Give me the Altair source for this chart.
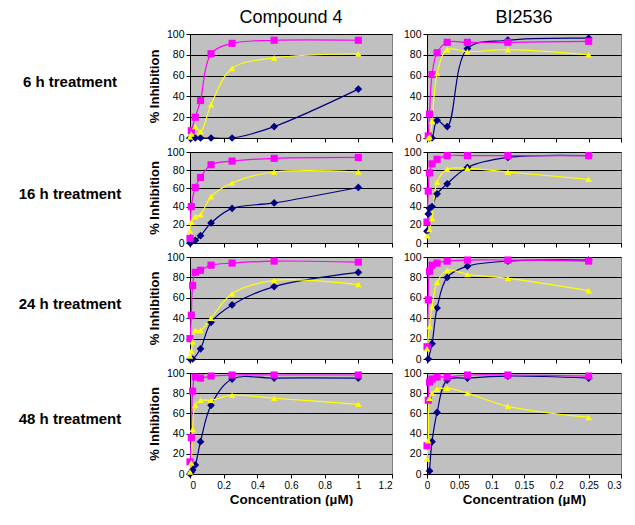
import altair as alt
import pandas as pd

FONT = "Liberation Sans"
N = None

TREATMENTS = ["6 h treatment", "16 h treatment", "24 h treatment", "48 h treatment"]
COMPOUNDS = ["Compound 4", "BI2536"]
SERIES = ["Series1", "Series2", "Series3"]
SERIES_COLORS = ["#000080", "#FF00FF", "#FFFF00"]
SERIES_SHAPES = ["diamond", "square", "triangle-up"]

# concentrations (µM)
C4_X = [0, 0.0078, 0.0156, 0.03125, 0.0625, 0.125, 0.25, 0.5, 1]
BI_X = [0, 0.00195, 0.0039, 0.0078, 0.0156, 0.03125, 0.0625, 0.125, 0.25]

# % inhibition, Compound 4
C4_6H_S1 = [0, 0, N, 0, 0, 0, 0, 11, 47]
C4_6H_S2 = [N, 7, N, 20, 36, 81, 91, 94, 94]
C4_6H_S3 = [1, 4, N, 11, 6, 32, 67, 77, 81]
C4_16H_S1 = [0, 1, N, 3, 8, 22, 38, 44, 61]
C4_16H_S2 = [5, 40, N, 61, 72, 86, 90, 93, 94]
C4_16H_S3 = [13, 23, N, 29, 31, 51, 66, 78, 78]
C4_24H_S1 = [0, N, 0, N, 10, 36, 53, 71, 85]
C4_24H_S2 = [20, 43, 72, 85, 87, 92, 94, 96, 95]
C4_24H_S3 = [3, 8, 17, 28, 28, 40, 64, 77, 73]
C4_48H_S1 = [0, 2, 4, 9, 32, 68, 94, 95, 95]
C4_48H_S2 = [12, 36, 82, 96, 95, 97, 98, 98, 98]
C4_48H_S3 = [2, 11, 44, 68, 73, 73, 78, 75, 69]

# % inhibition, BI2536
BI_6H_S1 = [N, N, 0, 0, 17, 11, 86, 94, 96]
BI_6H_S2 = [N, 2, 23, 61, 82, 92, 92, 92, 93]
BI_6H_S3 = [N, 0, 1, 16, 62, 85, 83, 85, 80]
BI_16H_S1 = [13, 32, 38, 40, 54, 65, 83, 94, 96]
BI_16H_S2 = [23, 57, 77, 87, 92, 96, 96, 96, 96]
BI_16H_S3 = [8, N, 15, 27, 67, 81, 82, 78, 70]
BI_24H_S1 = [N, 0, N, 15, 50, 80, 91, 96, 97]
BI_24H_S2 = [12, 58, 86, 92, 94, 96, 97, 97, 96]
BI_24H_S3 = [10, N, 32, 51, 75, 87, 83, 79, 67]
BI_48H_S1 = [N, N, 3, 32, 61, 93, 95, 97, 95]
BI_48H_S2 = [28, 73, 91, 94, 96, 96, 98, 98, 97]
BI_48H_S3 = [15, 33, 75, 80, 84, 85, 80, 67, 56]

TABLE = {
    ("Compound 4", "6 h treatment"): [C4_6H_S1, C4_6H_S2, C4_6H_S3],
    ("Compound 4", "16 h treatment"): [C4_16H_S1, C4_16H_S2, C4_16H_S3],
    ("Compound 4", "24 h treatment"): [C4_24H_S1, C4_24H_S2, C4_24H_S3],
    ("Compound 4", "48 h treatment"): [C4_48H_S1, C4_48H_S2, C4_48H_S3],
    ("BI2536", "6 h treatment"): [BI_6H_S1, BI_6H_S2, BI_6H_S3],
    ("BI2536", "16 h treatment"): [BI_16H_S1, BI_16H_S2, BI_16H_S3],
    ("BI2536", "24 h treatment"): [BI_24H_S1, BI_24H_S2, BI_24H_S3],
    ("BI2536", "48 h treatment"): [BI_48H_S1, BI_48H_S2, BI_48H_S3],
}

ROW_HEIGHTS = [104, 91, 102, 101]
COL_WIDTHS = [202, 194]
X_MAX = {"Compound 4": 1.2, "BI2536": 0.3}
X_STEP = {"Compound 4": 0.2, "BI2536": 0.05}
Y_TICKS = [0, 20, 40, 60, 80, 100]

color_scale = alt.Scale(domain=SERIES, range=SERIES_COLORS)
shape_scale = alt.Scale(domain=SERIES, range=SERIES_SHAPES)
size_scale = alt.Scale(domain=SERIES, range=[60, 42, 72])


def panel_data(comp, treat):
    xs = C4_X if comp == "Compound 4" else BI_X
    recs = []
    for s, vals in zip(SERIES, TABLE[(comp, treat)]):
        for x, v in zip(xs, vals):
            if v is not None:
                recs.append({"series": s, "conc": x, "inh": v})
    return pd.DataFrame(recs)


def make_panel(ri, ci):
    treat = TREATMENTS[ri]
    comp = COMPOUNDS[ci]
    h = ROW_HEIGHTS[ri]
    w = COL_WIDTHS[ci]
    bottom = ri == len(TREATMENTS) - 1
    left = ci == 0
    step = X_STEP[comp]
    xmax = X_MAX[comp]
    xticks = [round(i * step, 3) for i in range(7)]

    xaxis_kw = dict(values=xticks, grid=False, domainColor="black", tickColor="black",
                    tickSize=4, labelExpr="format(datum.value, '~g')",
                    labelFont=FONT, labelFontSize=10, labelColor="black", labelPadding=2,
                    titleFont=FONT, titleFontSize=13.5, titleFontWeight="bold",
                    titleColor="black", titlePadding=2, labels=bottom)
    if not left:
        xaxis_kw["labelAlign"] = {"condition": {"test": f"datum.value >= {xmax - 0.001}",
                                                "value": "right"},
                                  "value": "center"}
    yaxis_kw = dict(values=Y_TICKS, grid=True, gridColor="black", gridWidth=1,
                    domainColor="black", tickColor="black", tickSize=4,
                    labelFont=FONT, labelFontSize=10.5, labelColor="black", labelPadding=2,
                    titleFont=FONT, titleFontSize=13, titleFontWeight="bold",
                    titleColor="black", titlePadding=5)

    x_enc = alt.X("conc:Q", scale=alt.Scale(domain=[0, xmax], nice=False),
                  axis=alt.Axis(**xaxis_kw),
                  title="Concentration (µM)" if bottom else None)
    y_enc = alt.Y("inh:Q", scale=alt.Scale(domain=[0, 100], nice=False),
                  axis=alt.Axis(**yaxis_kw),
                  title="% Inhibition" if left else None)

    base = alt.Chart(panel_data(comp, treat))
    lines = base.mark_line(interpolate="catmull-rom", strokeWidth=1.2, clip=True).encode(
        x=x_enc, y=y_enc,
        color=alt.Color("series:N", scale=color_scale, legend=None),
    )
    pts = base.mark_point(filled=True, opacity=1, clip=False).encode(
        x=x_enc, y=y_enc,
        color=alt.Color("series:N", scale=color_scale, legend=None),
        shape=alt.Shape("series:N", scale=shape_scale, legend=None),
        size=alt.Size("series:N", scale=size_scale, legend=None),
    )
    layers = [lines, pts]
    if left:
        lab = alt.Chart(pd.DataFrame({"t": [treat]})).mark_text(
            font=FONT, fontSize=15, fontWeight="bold", color="black",
            align="center", baseline="middle",
        ).encode(text="t:N", x=alt.value(-120), y=alt.value(h * 0.46))
        layers.append(lab)
    ch = alt.layer(*layers).properties(width=w, height=h)
    if ri == 0:
        ch = ch.properties(title=alt.TitleParams(comp, font=FONT, fontSize=18,
                                                 fontWeight="normal", color="black",
                                                 offset=2, frame="group", anchor="middle"))
    return ch


panels = [make_panel(ri, ci) for ri in range(len(TREATMENTS)) for ci in range(2)]

chart = alt.concat(
    *panels, columns=2, spacing={"row": 14, "column": 35}, bounds="flush", align="each"
).properties(
    padding={"left": 10, "top": 0, "right": 0, "bottom": 0},
    background="white",
).configure_view(
    fill="#C0C0C0", stroke="#808080", strokeWidth=1
)

chart.save("out.html", embed_options={"renderer": "svg", "actions": False})
